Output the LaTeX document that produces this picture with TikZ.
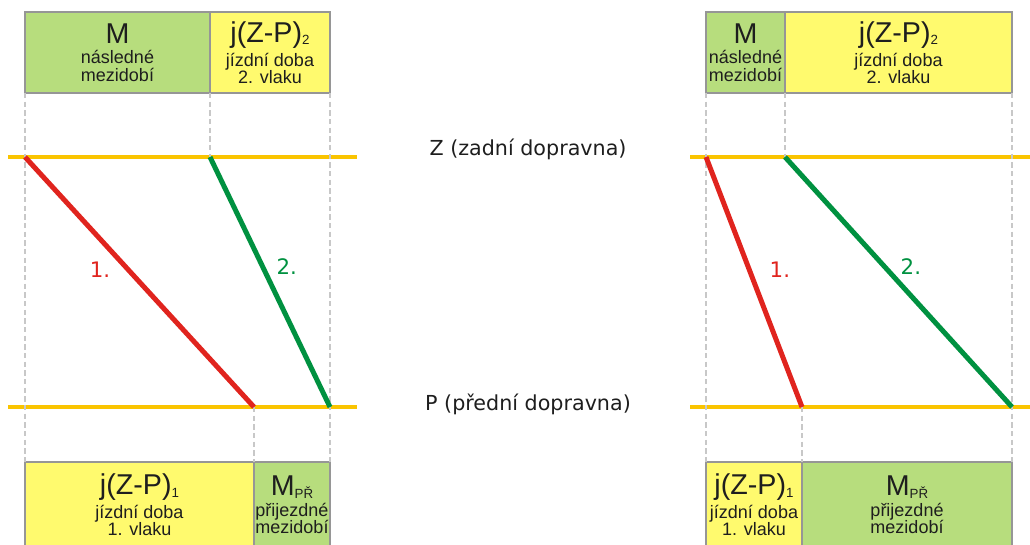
\documentclass[tikz,border=0pt]{standalone}
\usepackage{fontspec}
\setmainfont{Liberation Sans}
\newfontfamily\labelfont{DejaVu Sans}
\usetikzlibrary{positioning}

\definecolor{cellgreen}{RGB}{183,221,125}
\definecolor{cellyellow}{RGB}{255,250,110}
\definecolor{cellline}{RGB}{150,150,150}
\definecolor{tracky}{RGB}{250,196,0}
\definecolor{train1}{RGB}{224,36,30}
\definecolor{train2}{RGB}{0,145,64}
\definecolor{guide}{RGB}{200,200,200}
\definecolor{inktext}{RGB}{30,30,30}

% small index after the big symbol
\newcommand\lowidx[1]{\raisebox{-2pt}{\fontsize{10}{10}\selectfont #1}}
\newcommand\bigline[1]{{\fontsize{21.5}{21}\selectfont #1}\\[2.5pt]}

\begin{document}
\begin{tikzpicture}[
        x=0.75pt, y=-0.75pt,
        cell/.style={draw=cellline, line width=1.5pt, inner sep=0pt, outer sep=0pt, minimum height=60.75pt, align=center, text=inktext, font=\fontsize{13.5}{13}\selectfont},
        greencell/.style={cell, fill=cellgreen},
        yellowcell/.style={cell, fill=cellyellow},
        lowcell/.style={minimum height=64.5pt},
        track/.style={draw=tracky, line width=3pt},
        guideline/.style={draw=guide, line width=1.5pt, dash pattern=on 4pt off 2.5pt},
        train/.style={line width=3.75pt},
        station/.style={font=\labelfont\fontsize{15.5}{15}\selectfont, text=inktext},
        trainno/.style={font=\labelfont\fontsize{16}{16}\selectfont}
    ]
        \useasboundingbox (0,0) rectangle (1030,544);
        \clip (0,0) rectangle (1030,544);

        % left: the first train is slower
        \node[greencell, anchor=north west, minimum width=138.75pt] (mL) at (25,12) {\bigline{M}následné\\mezidobí};
        \node[yellowcell, right=0pt of mL, minimum width=90pt] (jL2) {\bigline{j(Z-P)\lowidx{2}}jízdní doba\\2. vlaku};
        \node[yellowcell, lowcell, anchor=north west, minimum width=171.75pt] (jL1) at (25,462) {\bigline{j(Z-P)\lowidx{1}}jízdní doba\\1. vlaku};
        \node[greencell, lowcell, right=0pt of jL1, minimum width=57pt] (mprL) {\bigline{M\lowidx{PŘ}}přijezdné\\mezidobí};

        \coordinate (zL) at (8,157);
        \coordinate (zLe) at (357,157);
        \coordinate (pL) at (8,407);
        \coordinate (pLe) at (357,407);
        \draw[track] (zL) -- (zLe);
        \draw[track] (pL) -- (pLe);

        \coordinate (d1L) at (mL.south west |- zL);
        \coordinate (d2L) at (mL.south east |- zL);
        \coordinate (a1L) at (jL1.north east |- pL);
        \coordinate (a2L) at (jL2.south east |- pL);

        \draw[guideline] (mL.south west) -- (jL1.north west);
        \draw[guideline] (mL.south east) -- (d2L);
        \draw[guideline] (jL2.south east) -- (mprL.north east);
        \draw[guideline] (a1L) -- (jL1.north east);

        \draw[train, train1] (d1L) -- node[trainno, pos=0.45, xshift=-21pt] (n1L) {1.} (a1L);
        \draw[train, train2] (d2L) -- node[trainno, pos=0.44, xshift=18pt] (n2L) {2.} (a2L);

        % stations
        \node[station, anchor=base] (zlab) at (528,155) {Z (zadní dopravna)};
        \node[station, anchor=base] (plab) at (528,410) {P (přední dopravna)};

        % right: the second train is slower
        \node[greencell, anchor=north west, minimum width=59.25pt] (mR) at (706,12) {\bigline{M}následné\\mezidobí};
        \node[yellowcell, right=0pt of mR, minimum width=170.25pt] (jR2) {\bigline{j(Z-P)\lowidx{2}}jízdní doba\\2. vlaku};
        \node[yellowcell, lowcell, anchor=north west, minimum width=72pt] (jR1) at (706,462) {\bigline{j(Z-P)\lowidx{1}}jízdní doba\\1. vlaku};
        \node[greencell, lowcell, right=0pt of jR1, minimum width=157.5pt] (mprR) {\bigline{M\lowidx{PŘ}}přijezdné\\mezidobí};

        \coordinate (zR) at (690,157);
        \coordinate (zRe) at (1030,157);
        \coordinate (pR) at (690,407);
        \coordinate (pRe) at (1030,407);
        \draw[track] (zR) -- (zRe);
        \draw[track] (pR) -- (pRe);

        \coordinate (d1R) at (mR.south west |- zR);
        \coordinate (d2R) at (mR.south east |- zR);
        \coordinate (a1R) at (jR1.north east |- pR);
        \coordinate (a2R) at (jR2.south east |- pR);

        \draw[guideline] (mR.south west) -- (jR1.north west);
        \draw[guideline] (mR.south east) -- (d2R);
        \draw[guideline] (jR2.south east) -- (mprR.north east);
        \draw[guideline] (a1R) -- (jR1.north east);

        \draw[train, train1] (d1R) -- node[trainno, pos=0.45, xshift=23pt] (n1R) {1.} (a1R);
        \draw[train, train2] (d2R) -- node[trainno, pos=0.44, xshift=19.5pt] (n2R) {2.} (a2R);
    \end{tikzpicture}
\end{document}
